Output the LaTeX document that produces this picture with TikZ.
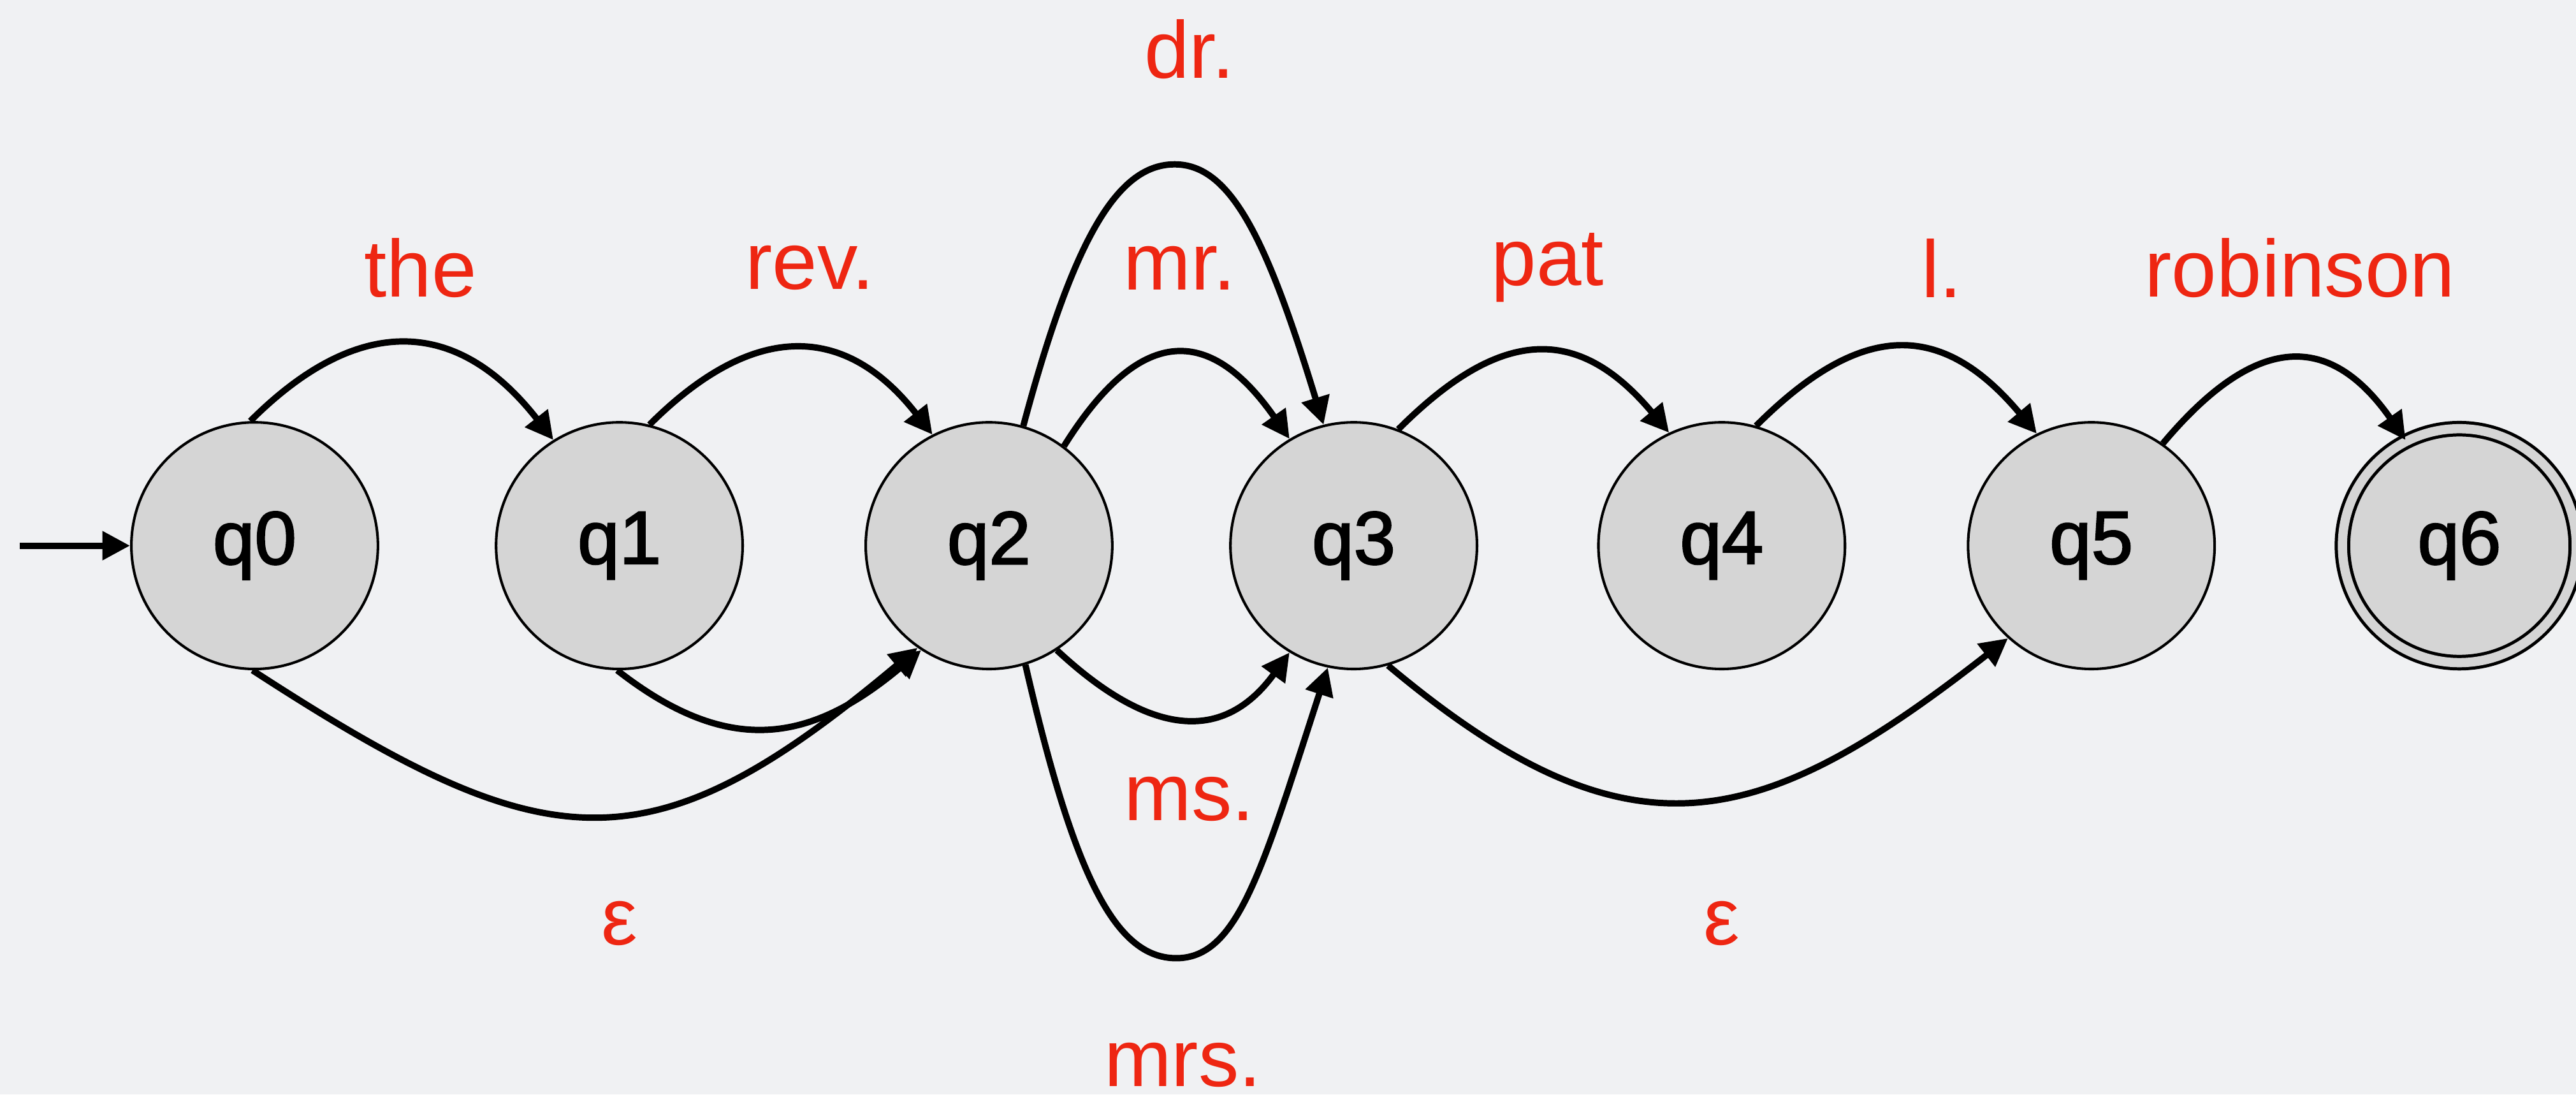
\documentclass[tikz,border=0pt]{standalone}
\usepackage{fontspec}
\setmainfont{Liberation Sans}
\newfontface\nodefont{Liberation Sans}[FakeBold=2]
\usetikzlibrary{arrows.meta}
\definecolor{bg}{HTML}{F0F1F3}
\definecolor{nodefill}{HTML}{D5D5D5}
\definecolor{lblred}{HTML}{EE2612}
\begin{document}
\begin{tikzpicture}[x=0.01cm,y=0.01cm,
  state/.style={circle,draw=black,line width=0.45pt,fill=nodefill,minimum size=1.5cm,inner sep=0pt,
    font=\nodefont\fontsize{13}{15}\selectfont},
  accept/.style={state,double=nodefill,double distance=1.6pt,line width=0.55pt,minimum size=1.5cm-2.2pt},
  lbl/.style={text=lblred,font=\fontsize{14}{16}\selectfont,inner sep=0pt},
  edge/.style={line width=1.1pt,-{Triangle[length=4.8pt,width=4.8pt]}}]
\fill[bg] (0,0) rectangle (1568,666);
\useasboundingbox (0,0) rectangle (1568,666);
% states
\node[state] (q0) at (155,334) {q0};
\node[state] (q1) at (377,334) {q1};
\node[state] (q2) at (602,334) {q2};
\node[state] (q3) at (824,334) {q3};
\node[state] (q4) at (1048,334) {q4};
\node[state] (q5) at (1273,334) {q5};
\node[accept] (q6) at (1497,334) {q6};
\coordinate (start) at (12,334);
\coordinate (drtop) at (715,566);
\coordinate (mrsbot) at (716,83);
% labels
\node[lbl] (lthe) at (256,503) {the};
\node[lbl] (lrev) at (493,503) {rev.};
\node[lbl] (ldr) at (724,636) {dr.};
\node[lbl] (lmr) at (718,503) {mr.};
\node[lbl] (lpat) at (942,503) {pat};
\node[lbl] (ll) at (1182,503) {l.};
\node[lbl] (lrob) at (1400,503) {robinson};
\node[lbl] (lms) at (724,180) {ms.};
\node[lbl] (lmrs) at (720,18) {mrs.};
\node[lbl] (leps1) at (377,104) {ε};
\node[lbl] (leps2) at (1048,104) {ε};
% edges
\draw[edge] (start) -- (q0.west);
\draw[edge] (q0.92) to[out=45,in=128,looseness=1.3] (q1.122);
\draw[edge] (q1.76) to[out=45,in=128,looseness=1.3] (q2.117);
\draw[edge] (q2.53) to[out=58,in=125,looseness=1.6] (q3.121);
\draw[edge] (q2.74) to[out=75,in=180,out looseness=1.66,in looseness=0.48] (drtop)
  to[out=0,in=107,out looseness=0.48,in looseness=1.66] (q3.104);
\draw[edge] (q2.-57) to[out=-43,in=234,looseness=1.3] (q3.239);
\draw[edge] (q2.-73) to[out=-77,in=180,out looseness=1.66,in looseness=0.48] (mrsbot)
  to[out=0,in=252,out looseness=0.48,in looseness=1.66] (q3.258);
\draw[edge] (q0.-91) to[out=-33,in=220,looseness=1.35] (q2.235);
\draw[edge] (q1.-91) to[out=-38,in=220,looseness=1.2] (q2.237);
\draw[edge] (q3.-74) to[out=-40,in=218,looseness=1.3] (q5.228);
\draw[edge] (q3.69) to[out=45,in=130,looseness=1.35] (q4.115);
\draw[edge] (q4.74) to[out=45,in=130,looseness=1.35] (q5.116);
\draw[edge] (q5.55) to[out=50,in=125,looseness=1.45] (q6.117);
\end{tikzpicture}
\end{document}
